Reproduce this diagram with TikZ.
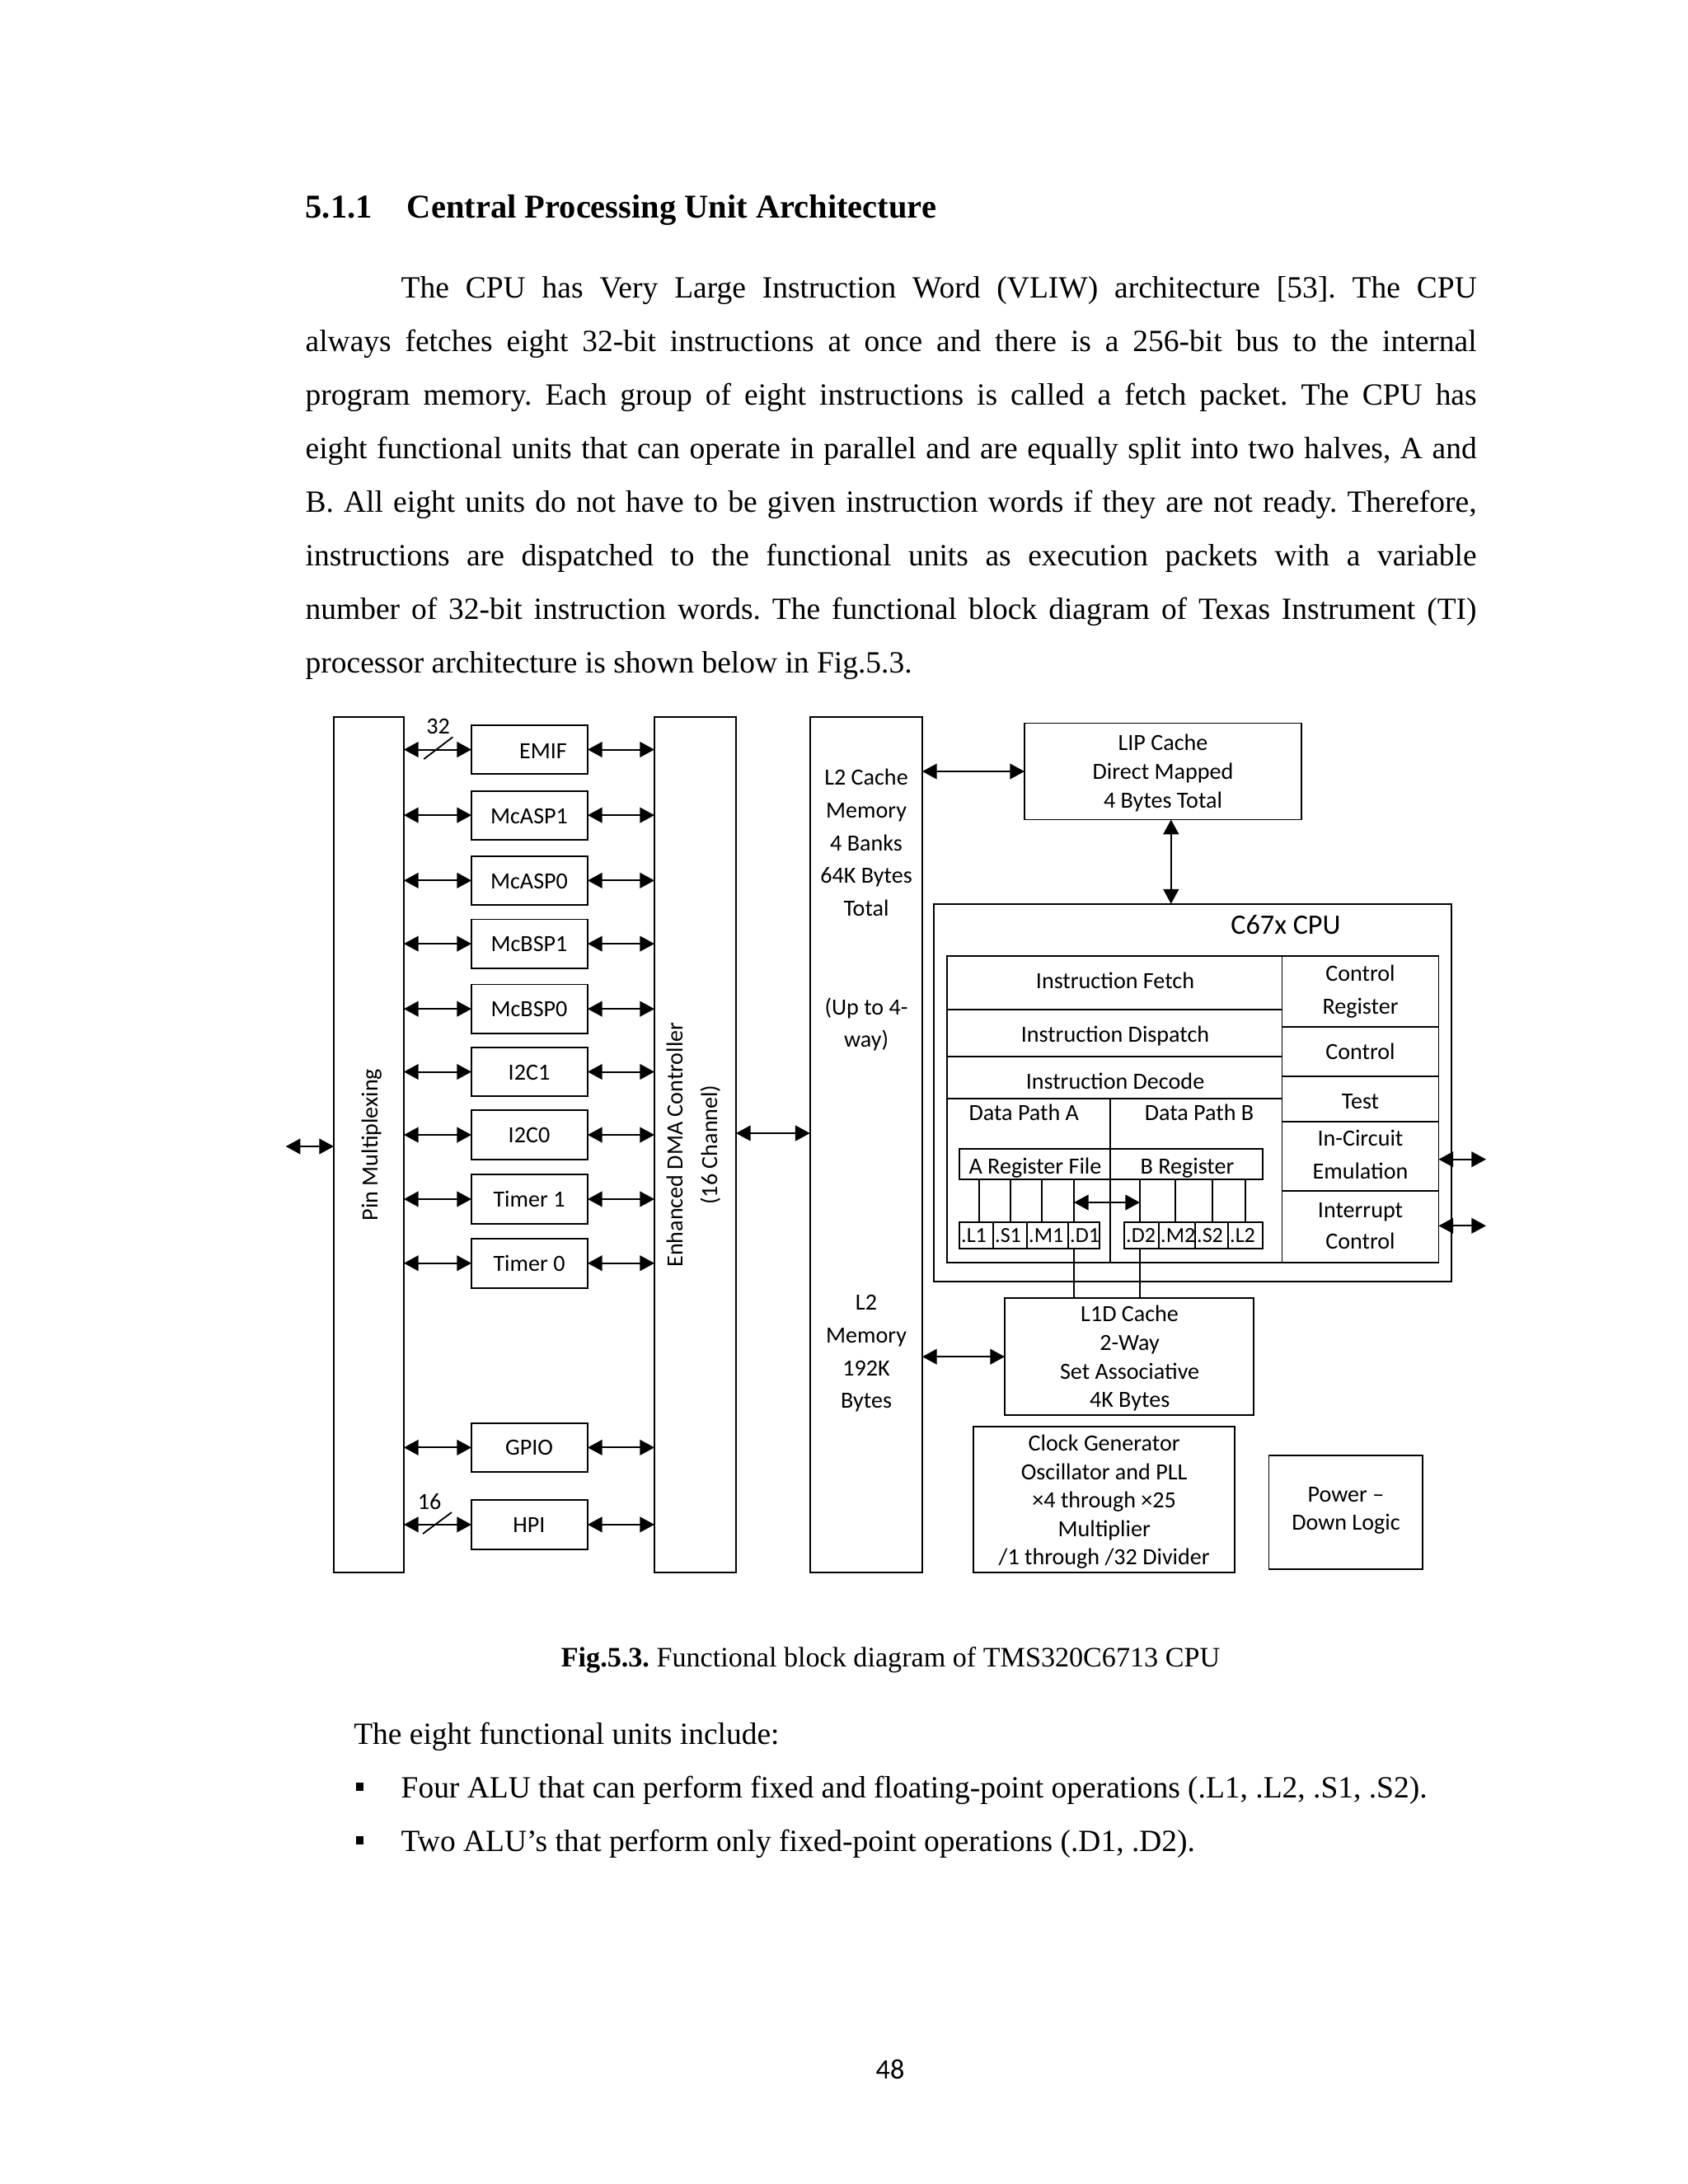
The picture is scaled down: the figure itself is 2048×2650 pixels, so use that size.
\documentclass[tikz,border=0pt]{standalone}
\usepackage{fontspec}
\setmainfont{Liberation Serif}
\newfontfamily\calfont{Carlito}
\usetikzlibrary{arrows.meta,fit}
\newdimen\pxu \pxu=0.29883pt
\newcommand\bx[3]{\node[bxs,fit={(#2) (#3)}] (#1) {};}
\newcommand\tl[4][]{\node[dtxt,#1] (#2) at (#3) {#4};}
\frenchspacing
\begin{document}
\begin{tikzpicture}[x=0.29883pt,y=-0.29883pt,
  bxs/.style={draw, line width=0.55pt, inner sep=0pt, outer sep=0pt},
  dtxt/.style={font=\calfont\fontsize{8.4}{10}\selectfont, inner sep=0pt, text height=5.5pt, text depth=0pt},
  utxt/.style={font=\calfont\fontsize{7.8}{9}\selectfont, inner sep=0pt, text height=5.1pt, text depth=0pt},
  biarr/.style={{Triangle[length=5.3pt,width=5.6pt]}-{Triangle[length=5.3pt,width=5.6pt]}, line width=0.6pt},
  ln/.style={line width=0.55pt},
  body/.style={font=\fontsize{11.2}{13}\selectfont, inner sep=0pt, anchor=base west}
]
\useasboundingbox[fill=white] (0,0) rectangle (2048,2650);

% ---------- page text ----------
\node[anchor=base west, inner sep=0pt, font=\bfseries\fontsize{12.1}{14}\selectfont] (secno) at (370,264) {5.1.1};
\node[anchor=base west, inner sep=0pt, font=\bfseries\fontsize{12.1}{14}\selectfont] (sectitle) at (493.3,264) {Central Processing Unit Architecture};

\node[body] (b1) at (486,361) {\makebox[390pt][s]{The CPU has Very Large Instruction Word (VLIW) architecture [53]. The CPU}};
\node[body] (b2) at (370,426) {\makebox[424.6pt][s]{always fetches eight 32-bit instructions at once and there is a 256-bit bus to the internal}};
\node[body] (b3) at (370,491.1) {\makebox[424.6pt][s]{program memory. Each group of eight instructions is called a fetch packet. The CPU has}};
\node[body] (b4) at (370,556.2) {\makebox[424.6pt][s]{eight functional units that can operate in parallel and are equally split into two halves, A and}};
\node[body] (b5) at (370,621.2) {\makebox[424.6pt][s]{B. All eight units do not have to be given instruction words if they are not ready. Therefore,}};
\node[body] (b6) at (370,686.3) {\makebox[424.6pt][s]{instructions are dispatched to the functional units as execution packets with a variable}};
\node[body] (b7) at (370,751.3) {\makebox[424.6pt][s]{number of 32-bit instruction words. The functional block diagram of Texas Instrument (TI)}};
\node[body] (b8) at (370,816.4) {processor architecture is shown below in Fig.5.3.};

\node[anchor=base, inner sep=0pt, font=\fontsize{10.2}{12}\selectfont] (cap) at (1080.5,2022.7) {\textbf{Fig.5.3.} Functional block diagram of TMS320C6713 CPU};
\node[body] (l0) at (428.6,2116.5) {The eight functional units include:};
\node[fill, inner sep=0pt, minimum width=9\pxu, minimum height=10\pxu] (bu1) at (436,2168) {};
\node[fill, inner sep=0pt, minimum width=9\pxu, minimum height=10\pxu] (bu2) at (436,2233) {};
\node[body] (l1) at (486,2181.5) {Four ALU that can perform fixed and floating-point operations (.L1, .L2, .S1, .S2).};
\node[body] (l2t) at (486,2246.5) {Two ALU’s that perform only fixed-point operations (.D1, .D2).};
\node[anchor=base, inner sep=0pt, font=\calfont\fontsize{10.2}{12}\selectfont] (pgno) at (1080,2522) {48};

% ---------- big columns ----------
\bx{pm}{405,870}{490,1908.3}
\bx{dma}{794,870}{893,1908.3}
\bx{l2}{982.7,870}{1119,1908.3}
\tl[rotate=90]{pmt}{449,1389}{Pin Multiplexing}
\tl[rotate=90]{dmat1}{819,1389}{Enhanced DMA Controller}
\tl[rotate=90]{dmat2}{861,1389}{(16 Channel)}

% ---------- peripherals ----------
\bx{emif}{572,880}{713,939}
\bx{mcasp1}{572,959.6}{713,1018.6}
\bx{mcasp0}{572,1038.7}{713,1098}
\bx{mcbsp1}{572,1115.4}{713,1174.8}
\bx{mcbsp0}{572,1194.5}{713,1253.8}
\bx{itwoca}{572,1270.8}{713,1330.2}
\bx{itwocb}{572,1347}{713,1407}
\bx{timera}{572,1425.3}{713,1484.6}
\bx{timerb}{572,1502.7}{713,1562.7}
\bx{gpio}{572,1726.7}{713,1786}
\bx{hpi}{572,1820}{713,1879.7}
\tl{temif}{659,911}{EMIF}
\tl{tmcasp1}{642,990}{McASP1}
\tl{tmcasp0}{642,1069}{McASP0}
\tl{tmcbsp1}{642,1145.5}{McBSP1}
\tl{tmcbsp0}{642,1224.5}{McBSP0}
\tl{titwoca}{642,1301}{I2C1}
\tl{titwocb}{642,1377.5}{I2C0}
\tl{ttimera}{642,1455.5}{Timer 1}
\tl{ttimerb}{642,1533}{Timer 0}
\tl{tgpio}{642,1756.5}{GPIO}
\tl{thpi}{642,1850.5}{HPI}
\foreach \n in {emif,mcasp1,mcasp0,mcbsp1,mcbsp0,itwoca,itwocb,timera,timerb,gpio,hpi}{
  \draw[biarr] (pm.east |- \n.west) -- (\n.west);
  \draw[biarr] (\n.east) -- (dma.west |- \n.east);
}
\draw[ln] (514.3,921) -- (549.3,894.3);
\tl{bw32}{531.7,881.7}{32}
\draw[ln] (513,1861) -- (548,1835);
\tl{bw16}{521,1822.7}{16}

% external left arrow, DMA to L2
\coordinate (extl) at (346.7,1391);
\draw[biarr] (extl) -- (extl -| pm.west);
\coordinate (dmal) at (0,1375);
\draw[biarr] (dma.east |- dmal) -- (l2.west |- dmal);

% ---------- L2 text ----------
\tl{l2a}{1051,943.6}{L2 Cache}
\tl{l2b}{1051,982.9}{Memory}
\tl{l2c}{1051,1023}{4 Banks}
\tl{l2d}{1051,1062}{64K Bytes}
\tl{l2e}{1051,1102.5}{Total}
\tl{l2f}{1051,1222.6}{(Up to 4-}
\tl{l2g}{1051,1261}{way)}
\tl{l2h}{1051,1580}{L2}
\tl{l2i}{1051,1620}{Memory}
\tl{l2j}{1051,1660}{192K}
\tl{l2k}{1051,1699.3}{Bytes}

% ---------- LIP cache ----------
\bx{lip}{1243,877.5}{1579,994.5}
\tl{lipa}{1411,901.6}{LIP Cache}
\tl{lipb}{1411,936.4}{Direct Mapped}
\tl{lipc}{1411,971.3}{4 Bytes Total}
\draw[biarr] (l2.east |- lip.west) -- (lip.west);

% ---------- CPU ----------
\bx{cpu}{1132.6,1096.7}{1760.7,1555}
\node[dtxt, font=\calfont\fontsize{10.2}{12}\selectfont, text height=6.7pt] (cput) at (1560,1122) {C67x CPU};
\coordinate (vx) at (1420.8,0);
\draw[biarr] (lip.south -| vx) -- (cpu.north -| vx);

\bx{fetch}{1149,1160}{1555.5,1225}
\bx{disp}{1149,1225}{1555.5,1281.7}
\bx{deco}{1149,1281.7}{1555.5,1333}
\bx{dpa}{1149,1333}{1347,1532}
\bx{dpb}{1347,1333}{1555.5,1532}
\bx{creg}{1555.5,1160}{1745.5,1246.3}
\bx{ctrl}{1555.5,1246.3}{1745.5,1305.7}
\bx{test}{1555.5,1305.7}{1745.5,1360.7}
\bx{ice}{1555.5,1360.7}{1745.5,1445.3}
\bx{intc}{1555.5,1445.3}{1745.5,1532}
\tl{tfetch}{1353,1190.7}{Instruction Fetch}
\tl{tdisp}{1353,1255}{Instruction Dispatch}
\tl{tdeco}{1353,1312.3}{Instruction Decode}
\tl{tdpa}{1242.3,1350.7}{Data Path A}
\tl{tdpb}{1455,1350.7}{Data Path B}
\tl{tcrega}{1650.5,1181.7}{Control}
\tl{tcregb}{1650.5,1221.7}{Register}
\tl{tctrl}{1650.5,1276.7}{Control}
\tl{ttest}{1650.5,1336.7}{Test}
\tl{ticea}{1650.5,1381.7}{In-Circuit}
\tl{ticeb}{1650.5,1421.7}{Emulation}
\tl{tintca}{1650.5,1468.3}{Interrupt}
\tl{tintcb}{1650.5,1506.7}{Control}

\bx{rega}{1164,1394}{1347,1431}
\bx{regb}{1347,1394}{1532,1431}
\tl{trega}{1256,1415}{A Register File}
\tl{tregb}{1440.5,1415}{B Register}

\bx{ul1}{1164,1483}{1205,1515}
\bx{us1}{1205,1483}{1246,1515}
\bx{um1}{1246,1483}{1296,1515}
\bx{ud1}{1296,1483}{1334,1515}
\bx{ud2}{1364,1483}{1406,1515}
\bx{um2}{1406,1483}{1450,1515}
\bx{us2}{1450,1483}{1490,1515}
\bx{ul2}{1490,1483}{1532,1515}
\foreach \n/\t in {ul1/.L1,us1/.S1,um1/.M1,ud1/.D1,ud2/.D2,um2/.M2,us2/.S2,ul2/.L2}{
  \node[utxt, anchor=west] (t\n) at ([xshift=1.5\pxu]\n.west) {\t};
}
\foreach \x in {1188,1226,1264,1303}{
  \draw[ln] (rega.south -| \x,0) -- (ul1.north -| \x,0);
}
\foreach \x in {1383,1426,1471,1511}{
  \draw[ln] (regb.south -| \x,0) -- (ud2.north -| \x,0);
}
\coordinate (ha) at (1303,1459);
\coordinate (hb) at (1383,1459);
\draw[biarr] (ha) -- (hb);

% right external arrows
\coordinate (extra) at (1803,1406.7);
\coordinate (extrb) at (1803,1487.3);
\draw[biarr] (extra -| ice.east) -- (extra);
\draw[biarr] (extrb -| intc.east) -- (extrb);

% ---------- L1D ----------
\bx{l1d}{1219,1575}{1521,1717.3}
\tl{tl1da}{1370.6,1594.7}{L1D Cache}
\tl{tl1db}{1370.6,1629.3}{2-Way}
\tl{tl1dc}{1370.6,1664}{Set Associative}
\tl{tl1dd}{1370.6,1698.3}{4K Bytes}
\draw[ln] (ud1.south -| 1303,0) -- (l1d.north -| 1303,0);
\draw[ln] (ud2.south -| 1383,0) -- (l1d.north -| 1383,0);
\draw[biarr] (l2.east |- l1d.west) -- (l1d.west);

% ---------- clock & power ----------
\bx{clk}{1181.2,1730.7}{1498.2,1908.3}
\tl{tclka}{1339.7,1751.7}{Clock Generator}
\tl{tclkb}{1339.7,1786}{Oscillator and PLL}
\tl{tclkc}{1339.7,1820.7}{×4 through ×25}
\tl{tclkd}{1339.7,1855}{Multiplier}
\tl{tclke}{1339.7,1889.3}{/1 through /32 Divider}
\bx{pwr}{1539.5,1765.7}{1725.7,1904.3}
\tl{tpwra}{1633,1813.3}{Power –}
\tl{tpwrb}{1633,1847.7}{Down Logic}
\end{tikzpicture}
\end{document}
